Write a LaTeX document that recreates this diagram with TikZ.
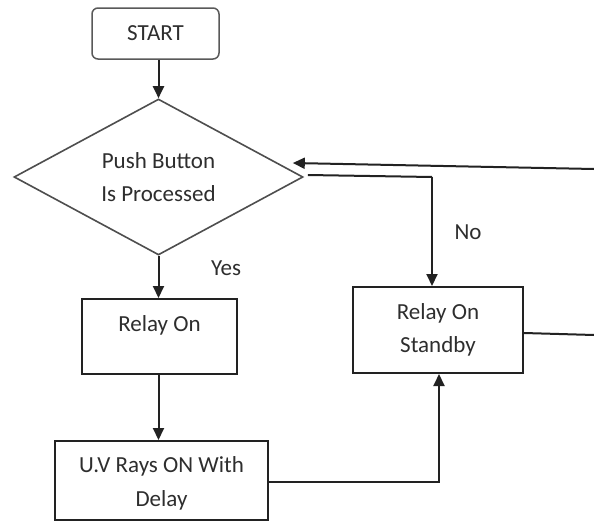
\documentclass[tikz,border=0pt]{standalone}
\usepackage{fontspec}
\setmainfont{Carlito}
\usetikzlibrary{arrows.meta,shapes.geometric}
\definecolor{txt}{HTML}{2E2E2E}
\definecolor{ln}{HTML}{222222}
\begin{document}
\begin{tikzpicture}[x=1pt,y=-1pt,
  every node/.style={font=\fontsize{23}{33.5}\selectfont, text=txt},
  procbox/.style={draw=ln, line width=2pt, rectangle, inner sep=0pt, align=center},
  startbox/.style={draw=ln!75, line width=1.5pt, rectangle, rounded corners=6pt, inner sep=0pt, minimum width=127pt, minimum height=51pt},
  decbox/.style={draw=ln!80, line width=1.6pt, diamond, aspect=1.85, inner sep=0pt, minimum width=289pt, minimum height=156pt, align=center},
  conn/.style={draw=ln, line width=2pt},
  arr/.style={conn, -{Triangle[length=12pt,width=11pt]}},
  lbl/.style={inner sep=0pt}]
\useasboundingbox (0,0) rectangle (594,522);
\fill[white] (0,0) rectangle (594,522);

\node[startbox] (start) at (155.5,33.5) {START};
\node[decbox] (dec) at (158.5,177) {Push Button\\Is Processed};
\node[procbox, minimum width=155pt, minimum height=75pt] (relay) at (159.5,336.5) {};
\node[lbl] (relaytxt) at (159.5,325) {Relay On};
\node[procbox, minimum width=170pt, minimum height=86pt] (standby) at (438,330) {Relay On\\Standby};
\node[procbox, minimum width=213pt, minimum height=79pt] (uv) at (161.5,480.5) {};
\node[lbl, align=center] (uvtxt) at (161.5,483.5) {U.V Rays ON With\\Delay};

\node[lbl] (yes) at (226,268) {Yes};
\node[lbl] (no) at (468,232) {No};

\coordinate (inR) at (594,169);
\coordinate (outR) at (594,335);
\coordinate (noturn) at (432,177);

\draw[arr] (start.south -| dec.north) -- (dec.north);
\draw[arr] (dec.south) -- (dec.south |- relay.north);
\draw[arr] (relay.south -| dec.south) -- (uv.north -| dec.south);
\draw[arr] ([yshift=-1.5pt]uv.east) -| ([xshift=1pt]standby.south);
\draw[conn] ([xshift=4pt,yshift=2pt]dec.east) -- (noturn);
\draw[arr] (noturn) -- (noturn |- standby.north);
\draw[arr] (inR) -- ([xshift=-11pt,yshift=14pt]dec.east);
\draw[conn] ([yshift=-3pt]standby.east) -- (outR);
\end{tikzpicture}
\end{document}
